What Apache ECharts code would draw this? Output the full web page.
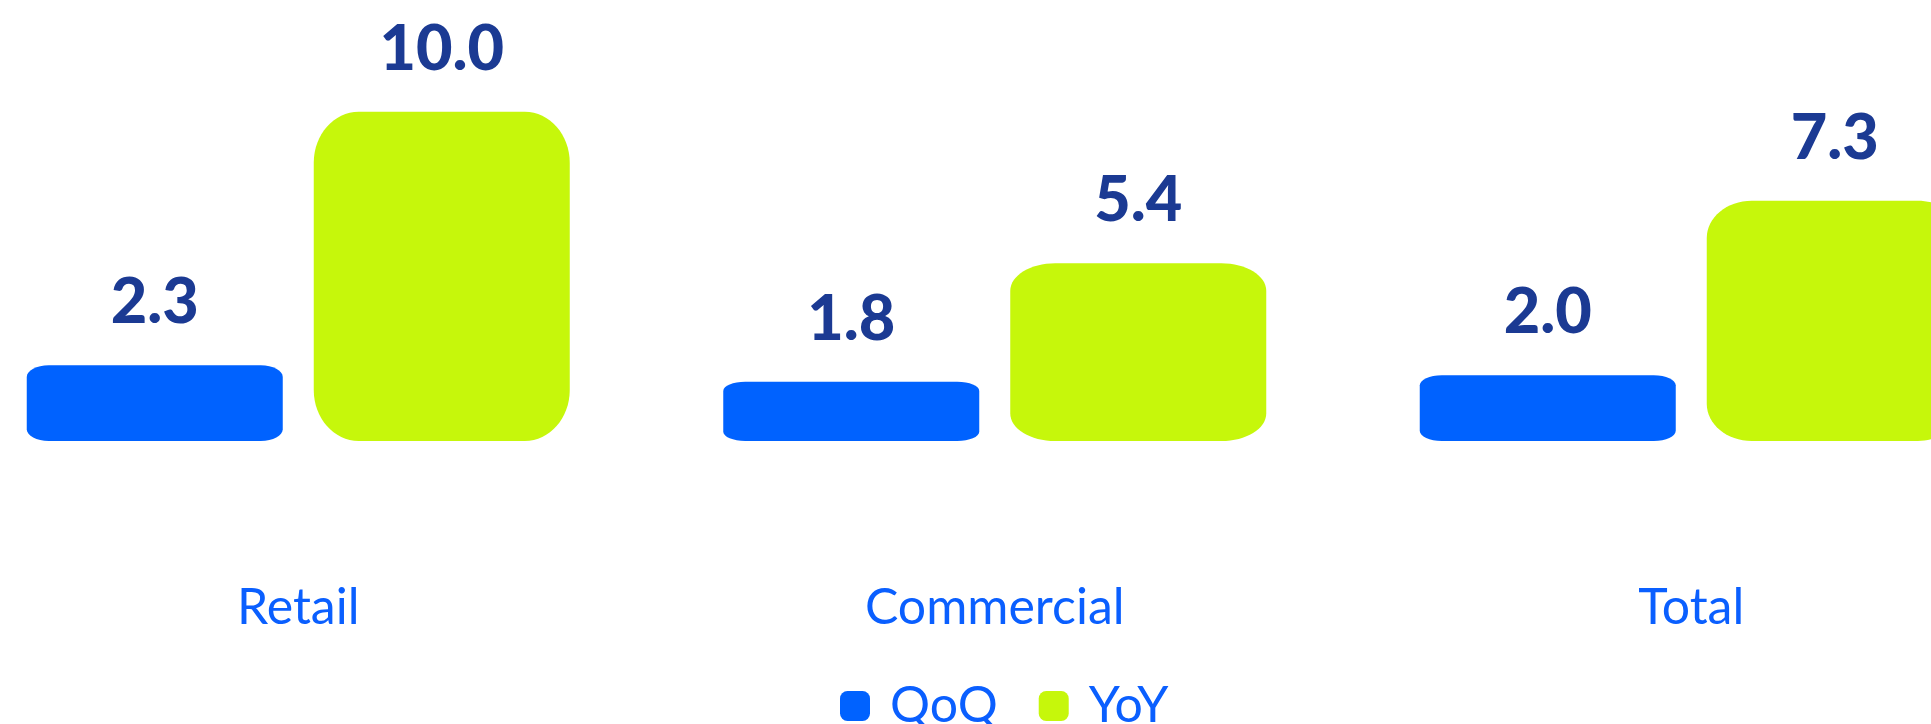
<!DOCTYPE html>
<html>
<head>
<meta charset="utf-8">
<script src="https://cdn.jsdelivr.net/npm/echarts@6/dist/echarts.min.js"></script>
<style>
html,body{margin:0;padding:0;background:#fff;}
#c{width:1931px;height:724px;}
</style>
</head>
<body>
<div id="c"></div>
<script>
var categories = ['Retail', 'Commercial', 'Total'];
var qoqValues = [2.3, 1.8, 2.0];
var yoyValues = [10.0, 5.4, 7.3];
var seriesNames = ['QoQ', 'YoY'];

var BLUE = '#0062FF';
var LIME = '#C6F70B';
var NAVY = '#1B3A93';
var TXT = '#0A5FFF';
var BAR_FRAC = 256 / 696.5;
var GAP_FRAC = 31 / 696.5;
var K = 0.5523;

function roundedPath(x0, y0, x1, y1, rx, ry) {
  return 'M' + (x0 + rx) + ',' + y0 +
    ' L' + (x1 - rx) + ',' + y0 +
    ' C' + (x1 - rx + K * rx) + ',' + y0 + ' ' + x1 + ',' + (y0 + ry - K * ry) + ' ' + x1 + ',' + (y0 + ry) +
    ' L' + x1 + ',' + (y1 - ry) +
    ' C' + x1 + ',' + (y1 - ry + K * ry) + ' ' + (x1 - rx + K * rx) + ',' + y1 + ' ' + (x1 - rx) + ',' + y1 +
    ' L' + (x0 + rx) + ',' + y1 +
    ' C' + (x0 + rx - K * rx) + ',' + y1 + ' ' + x0 + ',' + (y1 - ry + K * ry) + ' ' + x0 + ',' + (y1 - ry) +
    ' L' + x0 + ',' + (y0 + ry) +
    ' C' + x0 + ',' + (y0 + ry - K * ry) + ' ' + (x0 + rx - K * rx) + ',' + y0 + ' ' + (x0 + rx) + ',' + y0 + ' Z';
}

function makeRender(sign, rx, color) {
  return function (params, api) {
    var cat = api.value(0);
    var val = api.value(1);
    var base = api.coord([cat, 0]);
    var top = api.coord([cat, val]);
    var band = api.size([1, 0])[0];
    var w = band * BAR_FRAC;
    var gap = band * GAP_FRAC;
    var cx = base[0] + sign * (w + gap) / 2;
    var x0 = cx - w / 2, x1 = cx + w / 2;
    var y0 = top[1], y1 = base[1];
    var h = y1 - y0;
    var ry = h * 0.155;
    return {
      type: 'group',
      children: [
        { type: 'path', shape: { pathData: roundedPath(x0, y0, x1, y1, rx, ry) }, style: { fill: color } },
        { type: 'text', style: { x: cx, y: y0 - 31, text: val.toFixed(1), fill: NAVY,
          fontFamily: 'Lato', fontWeight: 900, fontSize: 63, align: 'center', verticalAlign: 'bottom' } }
      ]
    };
  };
}

function toData(vals) {
  return vals.map(function (v, i) { return [i, v]; });
}

var chart = echarts.init(document.getElementById('c'), null, { renderer: 'canvas' });
chart.setOption({
  animation: false,
  backgroundColor: '#ffffff',
  grid: { left: -50, width: 2089.5, top: 46, bottom: 283, containLabel: false, outerBoundsMode: 'none' },
  xAxis: {
    type: 'category',
    data: categories,
    axisLine: { show: false },
    axisTick: { show: false },
    splitLine: { show: false },
    axisLabel: { margin: 142, color: TXT, fontFamily: 'Lato', fontSize: 50, fontWeight: 'normal' }
  },
  yAxis: { type: 'value', min: 0, max: 12, show: false },
  legend: {
    left: 835, top: 676,
    itemWidth: 30, itemHeight: 30, itemGap: 41,
    textStyle: { color: TXT, fontFamily: 'Lato', fontSize: 50, padding: [0, 0, 0, 15] },
    data: [
      { name: seriesNames[0], icon: 'roundRect', itemStyle: { color: BLUE } },
      { name: seriesNames[1], icon: 'roundRect', itemStyle: { color: LIME } }
    ]
  },
  series: [
    { name: seriesNames[0], type: 'custom', itemStyle: { color: BLUE }, renderItem: makeRender(-1, 22, BLUE), data: toData(qoqValues), encode: { x: 0, y: 1 } },
    { name: seriesNames[1], type: 'custom', itemStyle: { color: LIME }, renderItem: makeRender(1, 45, LIME), data: toData(yoyValues), encode: { x: 0, y: 1 } }
  ]
});
</script>
</body>
</html>
